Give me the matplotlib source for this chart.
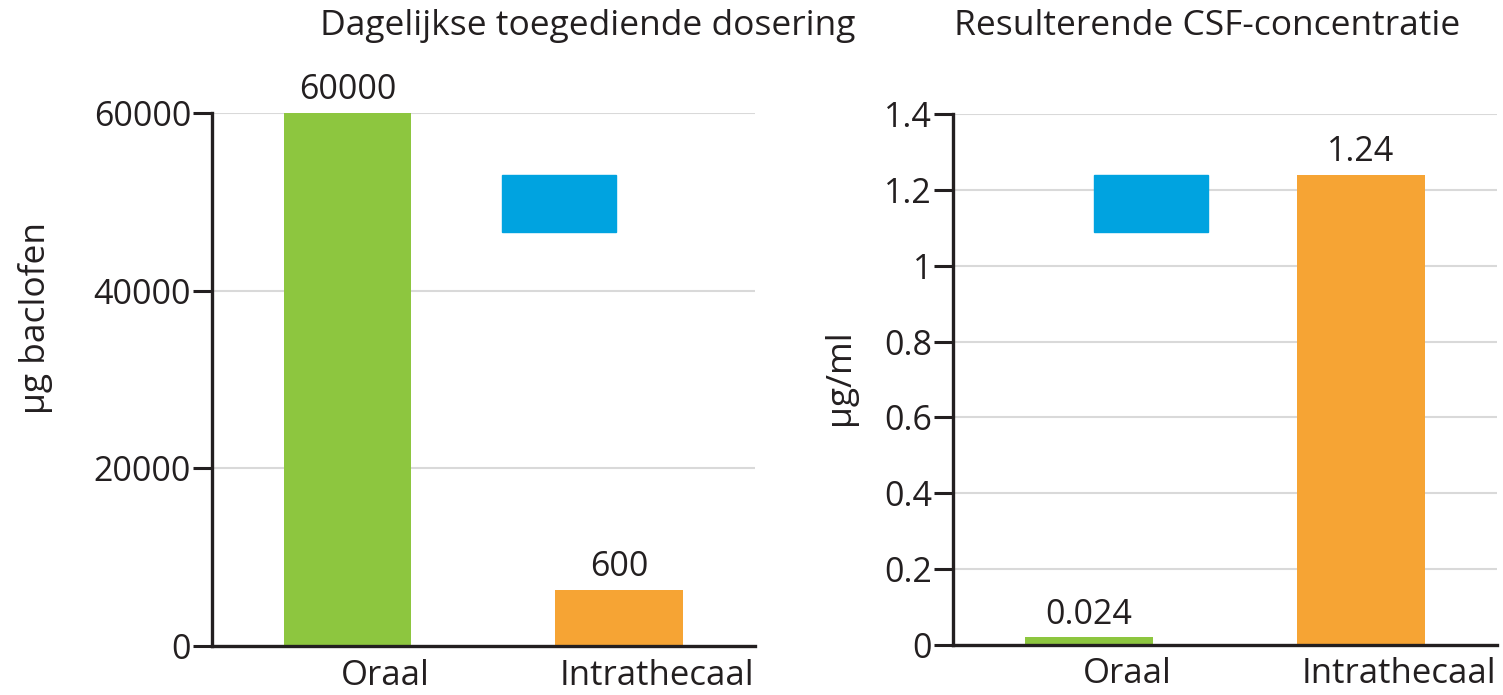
import matplotlib
matplotlib.use("Agg")
import matplotlib.pyplot as plt
from matplotlib.patches import Rectangle

plt.rcParams['font.family'] = ['Open Sans', 'DejaVu Sans']

# data
categories = ["Oraal", "Intrathecaal"]

dose_heights = [60000, 6300]        # bar heights as drawn
dose_labels = ["60000", "600"]      # printed values
dose_ticks = [0, 20000, 40000, 60000]

csf_heights = [0.02, 1.24]
csf_labels = ["0.024", "1.24"]
csf_ticks = [0, 0.2, 0.4, 0.6, 0.8, 1, 1.2, 1.4]
csf_ticklabels = ["0", "0.2", "0.4", "0.6", "0.8", "1", "1.2", "1.4"]

groen = "#8dc63f"
oranje = "#f6a434"
blauw = "#00a3e0"
tekst = "#231f20"
fs = 24.5       # tick- en waardelabels
fs_x = 25       # categorie-labels
fs_titel = 25.5

fig = plt.figure(figsize=(15.03, 6.95), dpi=100)
ax1 = fig.add_axes([0.141, 0.0705, 0.361, 0.767])
ax2 = fig.add_axes([0.634, 0.072, 0.362, 0.764])


def opmaak(ax, heights, labels, ticks, ticklabels, ymax):
    x = list(range(len(categories)))
    ax.bar(x, heights, width=0.47, color=[groen, oranje], zorder=3)
    for xi, h, lab in zip(x, heights, labels):
        ax.annotate(lab, (xi, h), xytext=(0, 4), textcoords="offset points",
                    ha="center", va="bottom", fontsize=fs, color=tekst)
    ax.set_xlim(-0.5, 1.5)
    ax.set_ylim(0, ymax)
    ax.set_yticks(ticks)
    ax.set_yticklabels(ticklabels)
    # labels staan iets rechts van de balken
    ax.set_xticks([xi + 0.14 for xi in x])
    ax.set_xticklabels(categories)
    ax.tick_params(axis="x", length=0, pad=9, labelsize=fs_x, colors=tekst)
    ax.tick_params(axis="y", length=14, width=2.2, pad=1, labelsize=fs,
                   colors=tekst)
    ax.grid(axis="y", color="#d9d9d9", linewidth=1.5, zorder=0)
    ax.set_axisbelow(True)
    for s in ["top", "right"]:
        ax.spines[s].set_visible(False)
    for s in ["left", "bottom"]:
        ax.spines[s].set_linewidth(2.4)
        ax.spines[s].set_color(tekst)
        ax.spines[s].set_zorder(4)


opmaak(ax1, dose_heights, dose_labels, dose_ticks,
       [str(t) for t in dose_ticks], 60000)
opmaak(ax2, csf_heights, csf_labels, csf_ticks, csf_ticklabels, 1.4)

# lege legendablokjes
ax1.add_patch(Rectangle((0.534, 0.777), 0.21, 0.107, transform=ax1.transAxes,
                        color=blauw, zorder=5))
ax2.add_patch(Rectangle((0.259, 0.778), 0.21, 0.107, transform=ax2.transAxes,
                        color=blauw, zorder=5))

fig.text(588 / 1503, 1 - 26 / 695, "Dagelijkse toegediende dosering",
         ha="center", va="center", fontsize=fs_titel, color=tekst)
fig.text(1207 / 1503, 1 - 26 / 695, "Resulterende CSF-concentratie",
         ha="center", va="center", fontsize=fs_titel, color=tekst)

fig.text(36 / 1503, 1 - 318 / 695, "µg baclofen", rotation=90,
         ha="center", va="center", fontsize=fs_titel, color=tekst)
fig.text(840 / 1503, 1 - 377 / 695, "µg/ml", rotation=90,
         ha="center", va="center", fontsize=fs_titel, color=tekst)

fig.savefig("out.png", dpi=100)
